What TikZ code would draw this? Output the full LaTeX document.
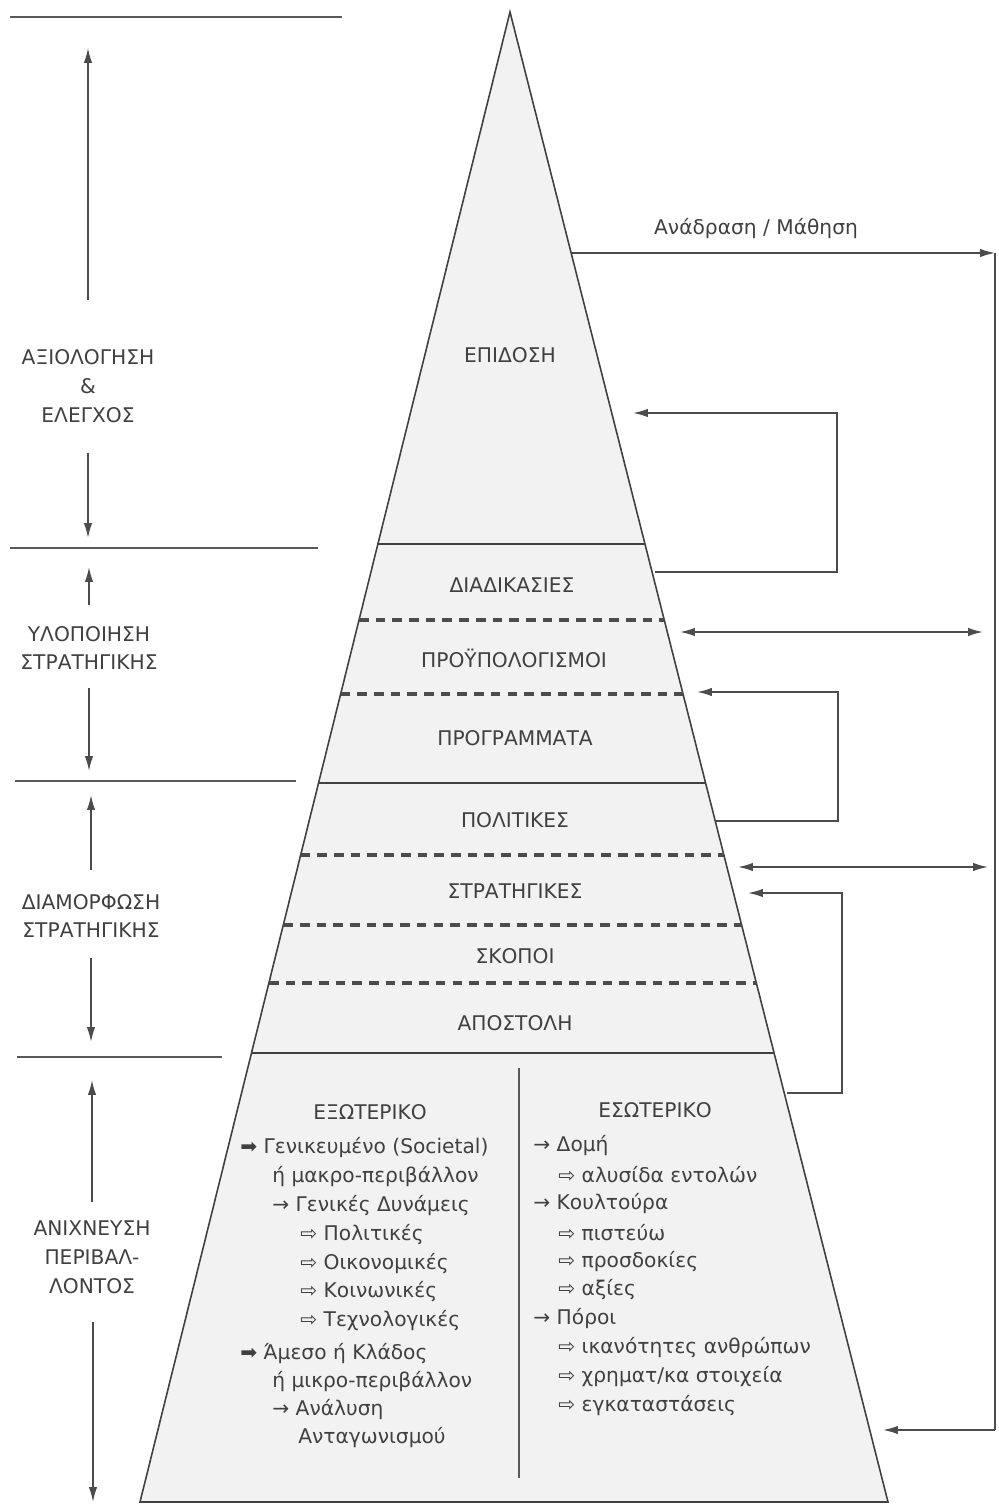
\documentclass[tikz,border=0pt]{standalone}
\usepackage{fontspec}
\setmainfont{DejaVu Sans}
\usetikzlibrary{arrows.meta}

\begin{document}
\begin{tikzpicture}[
    x=0.02cm, y=-0.02cm,
    every node/.style={font=\fontsize{11.5}{14}\selectfont, text=black!75},
    side/.style={align=center, inner sep=1pt, font=\fontsize{11.5}{16.4}\selectfont},
    item/.style={anchor=west, inner sep=0pt},
    rule/.style={draw=black!65, line width=1pt},
    solidsep/.style={draw=black!75, line width=1.6pt},
    dashsep/.style={draw=black!70, line width=2pt, dash pattern=on 5.5pt off 4pt},
    arr/.style={-{Latex[length=8.5pt,width=4.8pt]}, draw=black!70, line width=0.9pt},
    dblarr/.style={{Latex[length=8.5pt,width=4.8pt]}-{Latex[length=8.5pt,width=4.8pt]}, draw=black!70, line width=0.9pt},
    link/.style={draw=black!70, line width=0.9pt}
]
\useasboundingbox (0,0) rectangle (999,1506);

% Pyramid
\coordinate (apex) at (510,12);
\coordinate (bl) at (140,1502);
\coordinate (br) at (888,1502);
\filldraw[fill=black!5, draw=black!75, line width=0.9pt] (apex) -- (bl) -- (br) -- cycle;

\draw[solidsep] (377.9,544) -- (645.0,544);
\draw[dashsep] (359.0,620) -- (664.2,620);
\draw[dashsep] (340.6,694) -- (683.0,694);
\draw[solidsep] (318.5,783) -- (705.6,783);
\draw[dashsep] (300.7,855) -- (723.9,855);
\draw[dashsep] (283.3,925) -- (741.6,925);
\draw[dashsep] (268.9,983) -- (756.3,983);
\draw[solidsep] (251.5,1053) -- (774.1,1053);
\draw[rule] (519,1068) -- (519,1478);

\node (perf) at (510,355) {ΕΠΙΔΟΣΗ};
\node (proc) at (512,585) {ΔΙΑΔΙΚΑΣΙΕΣ};
\node (budg) at (514,658) {ΠΡΟΫΠΟΛΟΓΙΣΜΟΙ};
\node (prog) at (515,738) {ΠΡΟΓΡΑΜΜΑΤΑ};
\node (poli) at (515,820) {ΠΟΛΙΤΙΚΕΣ};
\node (strat) at (515,891) {ΣΤΡΑΤΗΓΙΚΕΣ};
\node (goals) at (515,956) {ΣΚΟΠΟΙ};
\node (miss) at (515,1023) {ΑΠΟΣΤΟΛΗ};

% Bottom: external / internal environment
\node (exthead) at (370,1112) {ΕΞΩΤΕΡΙΚΟ};
\node[item] (ext1) at (240,1148) {➡ Γενικευμένο (Societal)};
\node[item] (ext2) at (272,1177) {ή μακρο-περιβάλλον};
\node[item] (ext3) at (272,1206) {→ Γενικές Δυνάμεις};
\node[item] (ext4) at (300,1235) {⇨ Πολιτικές};
\node[item] (ext5) at (300,1264) {⇨ Οικονομικές};
\node[item] (ext6) at (300,1292) {⇨ Κοινωνικές};
\node[item] (ext7) at (300,1321) {⇨ Τεχνολογικές};
\node[item] (ext8) at (240,1354) {➡ Άμεσο ή Κλάδος};
\node[item] (ext9) at (272,1382) {ή μικρο-περιβάλλον};
\node[item] (ext10) at (272,1410) {→ Ανάλυση};
\node[item] (ext11) at (298,1438) {Ανταγωνισμού};

\node (inthead) at (655,1110) {ΕΣΩΤΕΡΙΚΟ};
\node[item] (int1) at (533,1146) {→ Δομή};
\node[item] (int2) at (558,1175) {⇨ αλυσίδα εντολών};
\node[item] (int3) at (533,1204) {→ Κουλτούρα};
\node[item] (int4) at (558,1233) {⇨ πιστεύω};
\node[item] (int5) at (558,1262) {⇨ προσδοκίες};
\node[item] (int6) at (558,1290) {⇨ αξίες};
\node[item] (int7) at (533,1319) {→ Πόροι};
\node[item] (int8) at (558,1348) {⇨ ικανότητες ανθρώπων};
\node[item] (int9) at (558,1377) {⇨ χρηματ/κα στοιχεία};
\node[item] (int10) at (558,1406) {⇨ εγκαταστάσεις};

% Left: phases
\draw[rule] (10,17) -- (342,17);
\node[side] (eval) at (88,386) {ΑΞΙΟΛΟΓΗΣΗ\\\&\\ΕΛΕΓΧΟΣ};
\coordinate (evalA) at (88,300);
\coordinate (evalB) at (88,48);
\coordinate (evalC) at (88,453);
\coordinate (evalD) at (88,538);
\draw[arr] (evalA) -- (evalB);
\draw[arr] (evalC) -- (evalD);
\draw[rule] (10,548) -- (318,548);

\node[side] (impl) at (89,648) {ΥΛΟΠΟΙΗΣΗ\\ΣΤΡΑΤΗΓΙΚΗΣ};
\coordinate (implA) at (89,605);
\coordinate (implB) at (89,567);
\coordinate (implC) at (89,688);
\coordinate (implD) at (89,771);
\draw[arr] (implA) -- (implB);
\draw[arr] (implC) -- (implD);
\draw[rule] (15,781) -- (296,781);

\node[side] (form) at (91,916) {ΔΙΑΜΟΡΦΩΣΗ\\ΣΤΡΑΤΗΓΙΚΗΣ};
\coordinate (formA) at (91,870);
\coordinate (formB) at (91,795);
\coordinate (formC) at (91,958);
\coordinate (formD) at (91,1042);
\draw[arr] (formA) -- (formB);
\draw[arr] (formC) -- (formD);
\draw[rule] (17,1057) -- (222,1057);

\node[side] (scan) at (92,1257) {ΑΝΙΧΝΕΥΣΗ\\ΠΕΡΙΒΑΛ-\\ΛΟΝΤΟΣ};
\coordinate (scanA) at (92,1202);
\coordinate (scanB) at (92,1080);
\coordinate (scanC) at (93,1322);
\coordinate (scanD) at (93,1502);
\draw[arr] (scanA) -- (scanB);
\draw[arr] (scanC) -- (scanD);

% Right: feedback loops
\node (fblabel) at (756,229) {Ανάδραση / Μάθηση};
\coordinate (fbA) at (572,253);
\coordinate (fbB) at (995,253);
\coordinate (fbC) at (995,1430);
\coordinate (fbD) at (883,1430);
\draw[arr] (fbA) -- (fbB);
\draw[link] (fbB) -- (fbC);
\draw[arr] (fbC) -- (fbD);

\coordinate (lpA) at (655,572);
\coordinate (lpB) at (633,413);
\draw[arr] (lpA) -- (837,572) |- (lpB);
\coordinate (lpC) at (715,821);
\coordinate (lpD) at (697,692);
\draw[arr] (lpC) -- (838,821) |- (lpD);
\coordinate (lpE) at (787,1093);
\coordinate (lpF) at (748,893);
\draw[arr] (lpE) -- (842,1093) |- (lpF);

\coordinate (bdA) at (680,632);
\coordinate (bdB) at (983,632);
\draw[dblarr] (bdA) -- (bdB);
\coordinate (bdC) at (738,867);
\coordinate (bdD) at (988,867);
\draw[dblarr] (bdC) -- (bdD);

\end{tikzpicture}
\end{document}
